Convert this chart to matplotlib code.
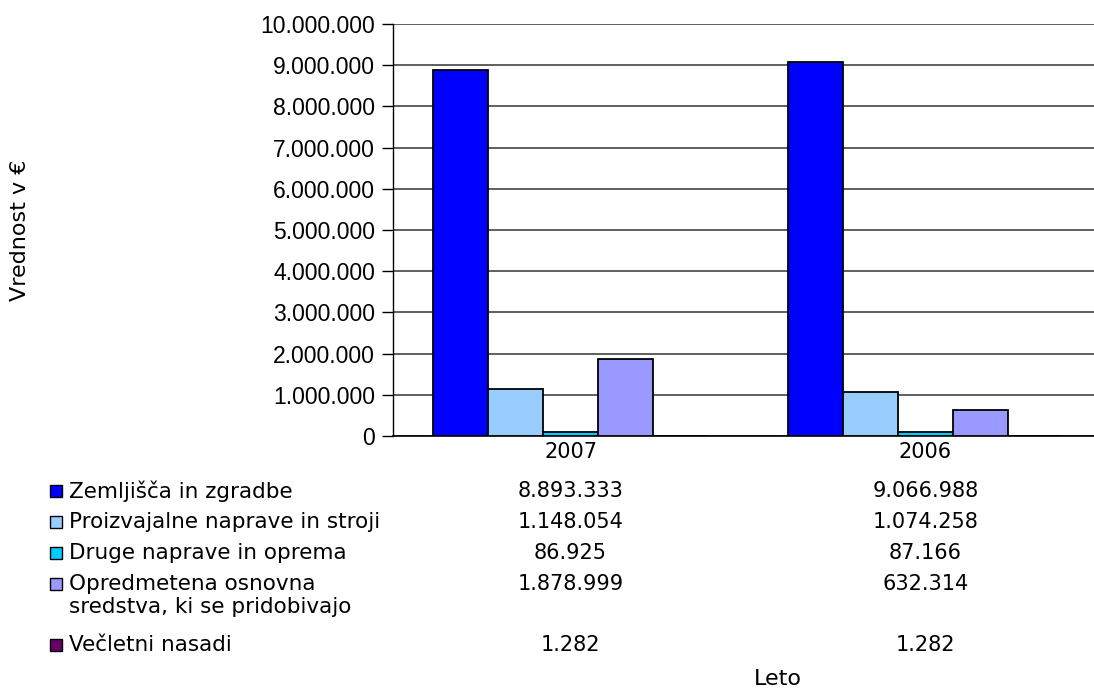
import matplotlib
matplotlib.use("Agg")
import matplotlib.pyplot as plt
from matplotlib import font_manager
from matplotlib.patches import Rectangle
from matplotlib.ticker import FuncFormatter
import matplotlib.transforms as mtransforms

# Data
years = ["2007", "2006"]
series_names = [
    "Zemljišča in zgradbe",
    "Proizvajalne naprave in stroji",
    "Druge naprave in oprema",
    "Opredmetena osnovna\nsredstva, ki se pridobivajo",
    "Večletni nasadi",
]
values_2007 = [8893333, 1148054, 86925, 1878999, 1282]
values_2006 = [9066988, 1074258, 87166, 632314, 1282]
colors = ["#0000FF", "#99CCFF", "#00CCFF", "#9999FF", "#660066"]
y_ticks = list(range(0, 10000001, 1000000))


def fmt_dots(v, pos=None):
    return f"{int(round(v)):,}".replace(",", ".")


# Regular (non-narrow) Liberation Sans for the value axis
tick_font = None
for f in font_manager.fontManager.ttflist:
    if (f.name == "Liberation Sans" and f.style == "normal"
            and f.weight in (400, "normal") and "Narrow" not in f.fname):
        tick_font = font_manager.FontProperties(fname=f.fname, size=16.5)
        break
if tick_font is None:
    tick_font = font_manager.FontProperties(family="DejaVu Sans", size=15)

W, H = 1094, 691
fig = plt.figure(figsize=(W / 100, H / 100), dpi=100)
ax = fig.add_axes([393 / W, 1 - 436 / H, 1 - 393 / W, (436 - 24) / H])

bar_w = 0.155
for i, (name, col) in enumerate(zip(series_names, colors)):
    vals = [values_2007[i], values_2006[i]]
    xs = [k + (i - 2) * bar_w for k in range(len(years))]
    ax.bar(xs, vals, width=bar_w, color=col, edgecolor="black",
           linewidth=1.3, zorder=3)

ax.set_xlim(-0.5, -0.5 + (W - 393) / 355)
ax.set_ylim(0, 10000000)
ax.set_yticks(y_ticks)
ax.yaxis.set_major_formatter(FuncFormatter(fmt_dots))
ax.set_xticks([])
ax.grid(axis="y", color="#444444", linewidth=1.2, zorder=0)
for s in ["top", "right"]:
    ax.spines[s].set_visible(False)
ax.spines["left"].set_color("black")
ax.spines["left"].set_linewidth(1.0)
ax.spines["bottom"].set_color("black")
ax.spines["bottom"].set_linewidth(1.2)
ax.tick_params(axis="y", direction="out", length=8, width=1.0, pad=5,
               colors="black")
for lbl in ax.get_yticklabels():
    lbl.set_fontproperties(tick_font)

# Data table underneath the plot
tfont = dict(family="DejaVu Sans", fontsize=15, color="black")
lfont = dict(family="DejaVu Sans", fontsize=15.5, color="black")
trans = mtransforms.blended_transform_factory(ax.transData, fig.transFigure)


def fy(px):
    return 1 - px / H


for k, yr in enumerate(years):
    fig.text(k, fy(452), yr, transform=trans, ha="center", va="center", **tfont)

row_y = [491, 522, 553, 584, 645]
for i, (name, col) in enumerate(zip(series_names, colors)):
    y = row_y[i]
    sq = 12
    fig.patches.append(Rectangle((50 / W, fy(y + sq / 2)), sq / W, sq / H,
                                 transform=fig.transFigure, facecolor=col,
                                 edgecolor="black", linewidth=1.0))
    fig.text(69 / W, fy(y), name.split("\n")[0], ha="left", va="center", **lfont)
    if "\n" in name:
        fig.text(69 / W, fy(y + 23), name.split("\n")[1], ha="left",
                 va="center", **lfont)
    for k, vals in enumerate([values_2007, values_2006]):
        fig.text(k, fy(y), fmt_dots(vals[i]), transform=trans, ha="center",
                 va="center", **tfont)

fig.text(778 / W, fy(679), "Leto", ha="center", va="center",
         family="DejaVu Sans", fontsize=16, color="black")
fig.text(20 / W, fy(230), "Vrednost v €", ha="center", va="center",
         rotation=90, family="DejaVu Sans", fontsize=16, color="black")

fig.savefig("out.png", dpi=100)
